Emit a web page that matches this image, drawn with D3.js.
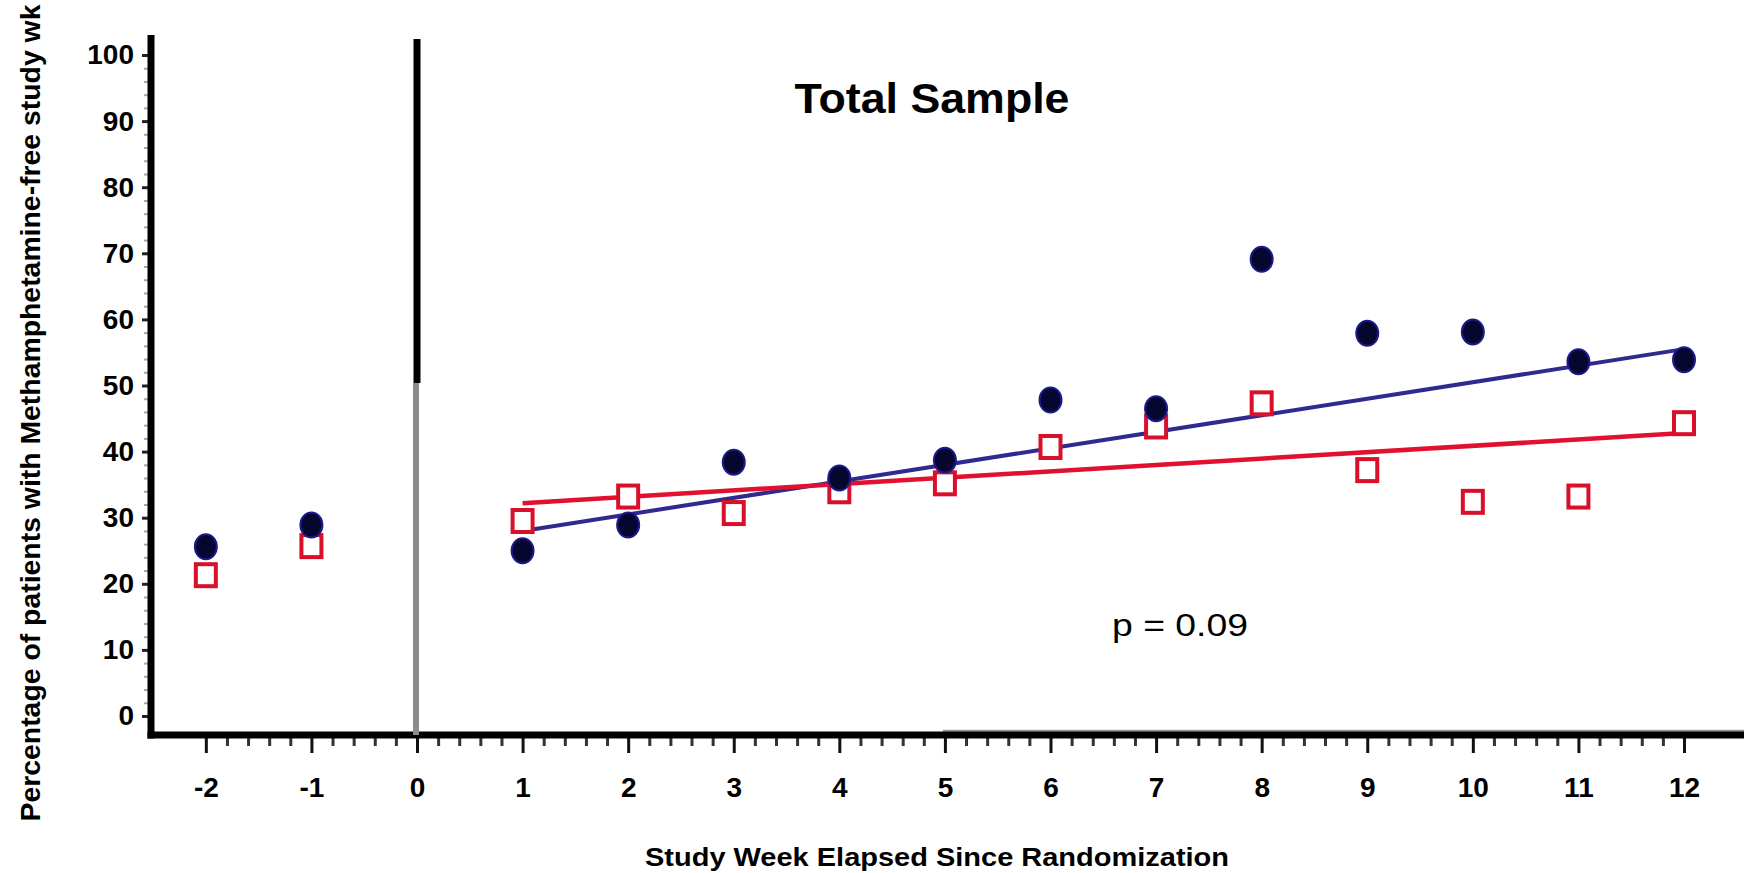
<!DOCTYPE html>
<html>
<head>
<meta charset="utf-8">
<script src="https://cdn.jsdelivr.net/npm/d3@7"></script>
<style>
  html, body { margin: 0; padding: 0; background: #fff; }
  svg { display: block; }
  text { font-family: "Liberation Sans", Arial, Helvetica, sans-serif; }
</style>
</head>
<body>
<svg id="chart" width="1744" height="873"></svg>
<script>
// Study weeks (pre-randomization baseline weeks -2, -1; treatment weeks 1-12)
const weeks = [-2, -1, 1, 2, 3, 4, 5, 6, 7, 8, 9, 10, 11, 12];
// Percentage of patients with a methamphetamine-free study week
const activeGroup  = [25.6, 28.9, 25.0, 28.9, 38.4, 36.0, 38.7, 47.8, 46.5, 69.1, 57.9, 58.1, 53.6, 53.9];
const placeboGroup = [21.3, 25.7, 29.5, 33.2, 30.7, 34.0, 35.2, 40.7, 43.8, 47.3, 37.2, 32.4, 33.2, 44.3];
// Fitted trend lines over the treatment period
const trendWeeks   = [1, 12];
const trendActive  = [28.0, 55.5];
const trendPlacebo = [32.2, 42.8];
// Axis ticks
const xTickValues = [-2, -1, 0, 1, 2, 3, 4, 5, 6, 7, 8, 9, 10, 11, 12];
const yTickValues = [0, 10, 20, 30, 40, 50, 60, 70, 80, 90, 100];

const svg = d3.select("#chart");

const x = d3.scaleLinear().domain([0, 12]).range([417, 1684]);
const y = d3.scaleLinear().domain([0, 100]).range([716, 55]);

const axisY = 735;     // centre of the heavy x-axis line
const axisX = 151;     // centre of the heavy y-axis line

// ---- y axis: minor ticks every 2, major every 10 ----
const yMinor = d3.range(0, 101, 2).filter(v => v % 10 !== 0);
svg.append("g")
  .attr("transform", `translate(${axisX - 3},0)`)
  .call(d3.axisLeft(y).tickValues(yMinor).tickSize(4).tickFormat(""))
  .call(g => g.select(".domain").remove())
  .call(g => g.selectAll("line").attr("stroke", "#a8a8a8").attr("stroke-width", 2));

svg.append("g")
  .attr("transform", `translate(${axisX - 3},0)`)
  .call(d3.axisLeft(y).tickValues(yTickValues).tickSize(6).tickPadding(8))
  .call(g => g.select(".domain").remove())
  .call(g => g.selectAll("line").attr("stroke", "#222").attr("stroke-width", 3))
  .call(g => g.selectAll("text")
    .attr("font-size", 28).attr("font-weight", "bold").attr("fill", "#000")
    .attr("font-family", "'Liberation Sans', Arial, sans-serif"));

// ---- x axis: minor ticks every 0.2 week, major every week ----
const xMinor = d3.range(-2, 12.001, 0.2).map(v => +v.toFixed(1)).filter(v => Math.abs(v - Math.round(v)) > 0.01);
svg.append("g")
  .attr("transform", `translate(0,${axisY + 3})`)
  .call(d3.axisBottom(x).tickValues(xMinor).tickSize(8).tickFormat(""))
  .call(g => g.select(".domain").remove())
  .call(g => g.selectAll("line").attr("stroke", "#333").attr("stroke-width", 3));

svg.append("g")
  .attr("transform", `translate(0,${axisY + 3})`)
  .call(d3.axisBottom(x).tickValues(xTickValues).tickSize(15).tickPadding(24).tickFormat(d => String(d)))
  .call(g => g.select(".domain").remove())
  .call(g => g.selectAll("line").attr("stroke", "#111").attr("stroke-width", 3))
  .call(g => g.selectAll("text")
    .attr("font-size", 28).attr("font-weight", "bold").attr("fill", "#000")
    .attr("font-family", "'Liberation Sans', Arial, sans-serif"));

// ---- heavy axis frame ----
svg.append("line")
  .attr("x1", axisX).attr("x2", axisX)
  .attr("y1", 35).attr("y2", axisY + 3.5)
  .attr("stroke", "#000").attr("stroke-width", 7);

svg.append("line")
  .attr("x1", x(5) - 2).attr("x2", 1744)
  .attr("y1", axisY - 4).attr("y2", axisY - 4)
  .attr("stroke", "#9a9a9a").attr("stroke-width", 2.5);

svg.append("line")
  .attr("x1", axisX - 3.5).attr("x2", 1744)
  .attr("y1", axisY).attr("y2", axisY)
  .attr("stroke", "#000").attr("stroke-width", 7);

// ---- randomization marker at week 0 ----
svg.append("line")
  .attr("x1", x(0)).attr("x2", x(0))
  .attr("y1", 39).attr("y2", 383)
  .attr("stroke", "#000").attr("stroke-width", 7);
svg.append("line")
  .attr("x1", x(0) - 1).attr("x2", x(0) - 1)
  .attr("y1", 383).attr("y2", axisY)
  .attr("stroke", "#8c8c8c").attr("stroke-width", 6);

// ---- trend lines ----
const line = d3.line().x(d => x(d[0])).y(d => y(d[1]));
svg.append("path")
  .datum(d3.zip(trendWeeks, trendActive))
  .attr("d", line)
  .attr("fill", "none")
  .attr("stroke", "#2e2a8e")
  .attr("stroke-width", 4);
svg.append("path")
  .datum(d3.zip(trendWeeks, trendPlacebo))
  .attr("d", line)
  .attr("fill", "none")
  .attr("stroke", "#e0102e")
  .attr("stroke-width", 4.5);

// ---- placebo: open red squares ----
svg.append("g").selectAll("rect")
  .data(d3.zip(weeks, placeboGroup))
  .join("rect")
  .attr("x", d => x(d[0]) - 10)
  .attr("y", d => y(d[1]) - 11)
  .attr("width", 20)
  .attr("height", 22)
  .attr("fill", "#fff")
  .attr("stroke", "#d8102c")
  .attr("stroke-width", 4);

// ---- active: filled dark dots ----
svg.append("g").selectAll("ellipse")
  .data(d3.zip(weeks, activeGroup))
  .join("ellipse")
  .attr("cx", d => x(d[0]))
  .attr("cy", d => y(d[1]))
  .attr("rx", 11)
  .attr("ry", 12.5)
  .attr("fill", "#06062e")
  .attr("stroke", "#1c1a8c")
  .attr("stroke-width", 2);

// ---- labels ----
svg.append("text")
  .attr("x", 932).attr("y", 113)
  .attr("text-anchor", "middle")
  .attr("font-size", 42)
  .attr("font-weight", "bold")
  .attr("textLength", 275)
  .attr("lengthAdjust", "spacingAndGlyphs")
  .text("Total Sample");

svg.append("text")
  .attr("x", 1180).attr("y", 636)
  .attr("text-anchor", "middle")
  .attr("font-size", 31)
  .attr("textLength", 136)
  .attr("lengthAdjust", "spacingAndGlyphs")
  .text("p = 0.09");

svg.append("text")
  .attr("x", 937).attr("y", 866)
  .attr("text-anchor", "middle")
  .attr("font-size", 25)
  .attr("font-weight", "bold")
  .attr("textLength", 584)
  .attr("lengthAdjust", "spacingAndGlyphs")
  .text("Study Week Elapsed Since Randomization");

svg.append("text")
  .attr("transform", "translate(40,413) rotate(-90)")
  .attr("text-anchor", "middle")
  .attr("font-size", 27)
  .attr("font-weight", "bold")
  .attr("textLength", 817)
  .attr("lengthAdjust", "spacingAndGlyphs")
  .text("Percentage of patients with Methamphetamine-free study wk");
</script>
</body>
</html>
